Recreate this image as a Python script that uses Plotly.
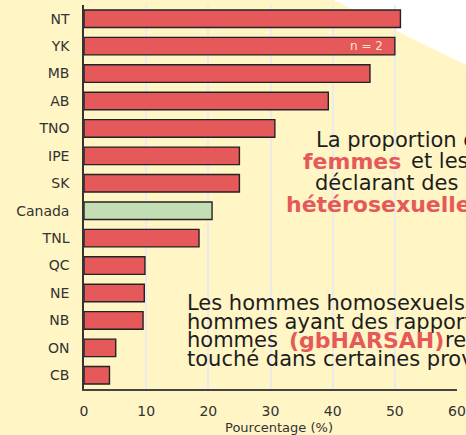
import plotly.graph_objects as go

regions = ["NT", "YK", "MB", "AB", "TNO", "IPE", "SK", "Canada", "TNL", "QC", "NE", "NB", "ON", "CB"]
values = [50.9, 50.0, 46.0, 39.3, 30.7, 25.0, 25.0, 20.6, 18.5, 9.8, 9.7, 9.5, 5.1, 4.1]
x_ticks = [0, 10, 20, 30, 40, 50, 60]
x_title = "Pourcentage (%)"

RED = "#E5595B"
GREEN = "#C3DDB4"
BG = "#FFF5C5"
colors = [GREEN if r == "Canada" else RED for r in regions]

W, H = 466, 435
L, R, T, B = 84, 9, 5, 46
PW, PH = W - L - R, H - T - B


def px(x):
    return (x - L) / PW


def py(y):
    return (H - B - y) / PH


fig = go.Figure()
fig.add_trace(go.Bar(
    y=regions, x=values, orientation="h",
    marker=dict(color=colors, line=dict(color="#232323", width=1.4)),
    width=0.64, showlegend=False, hoverinfo="x+y",
))

font = "DejaVu Sans"
txt = "#1d1d1d"
ann = []


def add(text, x, y, size=21, color=txt, bold=False):
    if bold:
        text = "<b>" + text + "</b>"
    ann.append(dict(text=text, xref="paper", yref="paper", x=px(x), y=py(y),
                    xanchor="left", yanchor="middle", showarrow=False,
                    borderpad=0,
                    font=dict(family=font, size=size, color=color)))


# block 1
add("La proportion de", 315, 140)
add("femmes", 302, 161, size=22, color=RED, bold=True)
add("et les hommes", 410, 161)
add("déclarant des relations", 314, 183)
add("hétérosexuelles", 285, 204, size=22, color=RED, bold=True)
# block 2
add("Les hommes homosexuels", 186, 303)
add("hommes ayant des rapports", 186, 322)
add("hommes", 186, 340)
add("(gbHARSAH)", 288, 340, size=22, color=RED, bold=True)
add("restent", 444, 340)
add("touché dans certaines provinces", 186, 359)

# n = 2 label
ann.append(dict(text="n = 2", xref="x", yref="y", x=48.4, y="YK", xanchor="right",
                yanchor="middle", showarrow=False,
                font=dict(family=font, size=12, color="#FFE8C8")))
# axis title
ann.append(dict(text=x_title, xref="paper", yref="paper", x=px(279), y=py(427),
                xanchor="center", yanchor="middle", showarrow=False,
                font=dict(family=font, size=13, color="#333333")))

fig.update_layout(
    width=W, height=H,
    margin=dict(l=L, r=R, t=T, b=B, autoexpand=False),
    paper_bgcolor=BG, plot_bgcolor="rgba(0,0,0,0)",
    bargap=0.36,
    annotations=ann,
    shapes=[dict(type="path", xref="paper", yref="paper", layer="below",
                 path=f"M {px(313)} {py(-10)} L {px(520)} {py(-10)} L {px(520)} {py(91.4)} Z",
                 fillcolor="white", line=dict(width=0))],
    xaxis=dict(range=[0, 60], tickvals=x_ticks, showgrid=True, gridcolor="#EBEBEB",
               gridwidth=1.5, zeroline=False, showline=True, linecolor="#444444",
               linewidth=2, ticks="outside", ticklen=8, tickcolor="rgba(0,0,0,0)",
               automargin=False,
               tickfont=dict(family=font, size=14, color="#333333"), fixedrange=True),
    yaxis=dict(range=[13.5, -0.5], showgrid=False, zeroline=False, showline=True,
               linecolor="#333333", linewidth=1.5, ticks="outside", ticklen=10,
               tickcolor="rgba(0,0,0,0)", automargin=False,
               tickfont=dict(family=font, size=14, color="#333333"), fixedrange=True),
)

fig.write_html("out.html")
